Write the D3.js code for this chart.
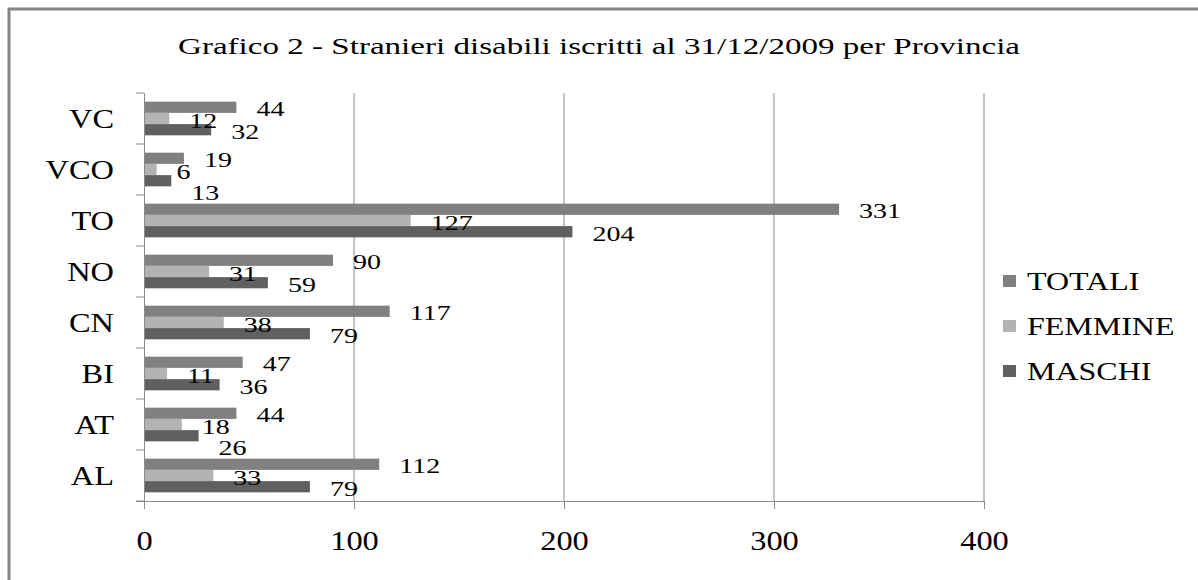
<!DOCTYPE html>
<html>
<head>
<meta charset="utf-8">
<script src="https://cdn.jsdelivr.net/npm/d3@7"></script>
<style>
  body { margin: 0; background: #fff; }
  text { font-family: "Liberation Serif", "Times New Roman", serif; fill: #000; }
</style>
</head>
<body>
<svg id="chart" width="1198" height="580"></svg>
<script>
// Provinces, top to bottom as shown on the vertical axis
const provinces = ["VC", "VCO", "TO", "NO", "CN", "BI", "AT", "AL"];
// Disabled foreign residents registered at 31/12/2009
const totali  = [44, 19, 331, 90, 117, 47, 44, 112];
const femmine = [12, 6, 127, 31, 38, 11, 18, 33];
const maschi  = [32, 13, 204, 59, 79, 36, 26, 79];
const seriesNames = ["TOTALI", "FEMMINE", "MASCHI"];
const xTickValues = [0, 100, 200, 300, 400];
const titleText = "Grafico 2 - Stranieri disabili iscritti al 31/12/2009  per Provincia";

const seriesValues = { TOTALI: totali, FEMMINE: femmine, MASCHI: maschi };
const colors = { TOTALI: "#808080", FEMMINE: "#b3b3b3", MASCHI: "#606060" };
const axisColor = "#8a8a8a";

const svg = d3.select("#chart");

// outer frame
svg.append("rect")
  .attr("x", 9).attr("y", 9).attr("width", 1400).attr("height", 800)
  .attr("fill", "none").attr("stroke", "#868686").attr("stroke-width", 3);

// title (wide serif type)
svg.append("text")
  .attr("x", 599).attr("y", 54)
  .attr("text-anchor", "middle")
  .attr("font-size", 23)
  .attr("textLength", 842).attr("lengthAdjust", "spacingAndGlyphs")
  .text(titleText);

const plot = { left: 144, right: 984, top: 93, bottom: 501 };

const x = d3.scaleLinear().domain([0, 400]).range([plot.left, plot.right]);
const y = d3.scaleBand().domain(provinces).range([plot.top, plot.bottom])
  .paddingInner(0.34).paddingOuter(0.17);
const ySub = d3.scaleBand().domain(seriesNames).range([0, y.bandwidth()]);

// vertical gridlines
svg.append("g").selectAll("line")
  .data(xTickValues.filter(v => v > 0))
  .join("line")
  .attr("x1", d => x(d)).attr("x2", d => x(d))
  .attr("y1", plot.top).attr("y2", plot.bottom)
  .attr("stroke", axisColor).attr("stroke-width", 1);

// bars
const groups = svg.append("g").selectAll("g")
  .data(provinces)
  .join("g")
  .attr("transform", p => `translate(0,${y(p)})`);

seriesNames.forEach(s => {
  groups.append("rect")
    .attr("x", x(0))
    .attr("y", ySub(s))
    .attr("width", (p, i) => x(seriesValues[s][i]) - x(0))
    .attr("height", ySub.bandwidth())
    .attr("fill", colors[s]);
});

// value labels, placed just past the bar end; a label whose span
// collides with the label above it is nudged downwards
const labelSize = 20, labelStretch = 1.4, labelGap = 20;
const labelWidth = v => String(v).length * labelSize * 0.5 * labelStretch;
const labelStart = v => x(v) + labelGap;
const collides = (a, b) =>
  labelStart(a) < labelStart(b) + labelWidth(b) + 4 &&
  labelStart(b) < labelStart(a) + labelWidth(a) + 4;

seriesNames.forEach((s, k) => {
  groups.append("text")
    .attr("transform", (p, i) => {
      const v = seriesValues[s][i];
      let dy = 2;
      if (k > 0 && collides(seriesValues[seriesNames[k - 1]][i], v)) dy += 10;
      return `translate(${labelStart(v)},${ySub(s) + ySub.bandwidth() / 2 + dy}) scale(${labelStretch},1)`;
    })
    .attr("dy", "0.35em")
    .attr("font-size", labelSize)
    .text((p, i) => seriesValues[s][i]);
});

// x axis
const xAxis = svg.append("g")
  .attr("transform", `translate(0,${plot.bottom})`)
  .call(d3.axisBottom(x).tickValues(xTickValues).tickSize(8).tickSizeOuter(0));
xAxis.select(".domain").attr("stroke", axisColor).attr("d", `M${plot.left - 8},0.5H${plot.right}`);
xAxis.selectAll(".tick line").attr("stroke", axisColor);
xAxis.selectAll(".tick text")
  .attr("y", 0).attr("dy", 0)
  .attr("transform", "translate(0,49) scale(1.2,1)")
  .attr("font-size", 27)
  .attr("fill", "#000");

// y axis: category labels centred in bands, ticks on band boundaries
const yAxis = svg.append("g")
  .attr("transform", `translate(${plot.left},0)`)
  .call(d3.axisLeft(y).tickSize(0).tickPadding(0));
yAxis.select(".domain").attr("stroke", axisColor).attr("d", `M0.5,${plot.top}V${plot.bottom}`);
yAxis.selectAll(".tick text")
  .attr("x", 0).attr("dy", "0.35em")
  .attr("transform", "translate(-30,0) scale(1.2,1)")
  .attr("font-size", 27)
  .attr("fill", "#000");

const boundaries = d3.range(provinces.length + 1).map(i => plot.top + i * y.step());
svg.append("g").selectAll("line")
  .data(boundaries)
  .join("line")
  .attr("x1", plot.left - 8).attr("x2", plot.left)
  .attr("y1", d => d).attr("y2", d => d)
  .attr("stroke", axisColor);

// legend
const legend = svg.append("g").selectAll("g")
  .data(seriesNames)
  .join("g")
  .attr("transform", (d, i) => `translate(1003,${281 + i * 45})`);
legend.append("rect")
  .attr("x", 0).attr("y", -6).attr("width", 13).attr("height", 12)
  .attr("fill", d => colors[d]);
legend.append("text")
  .attr("transform", "translate(24,0) scale(1.28,1)")
  .attr("dy", "0.35em")
  .attr("font-size", 25)
  .text(d => d);
</script>
</body>
</html>
